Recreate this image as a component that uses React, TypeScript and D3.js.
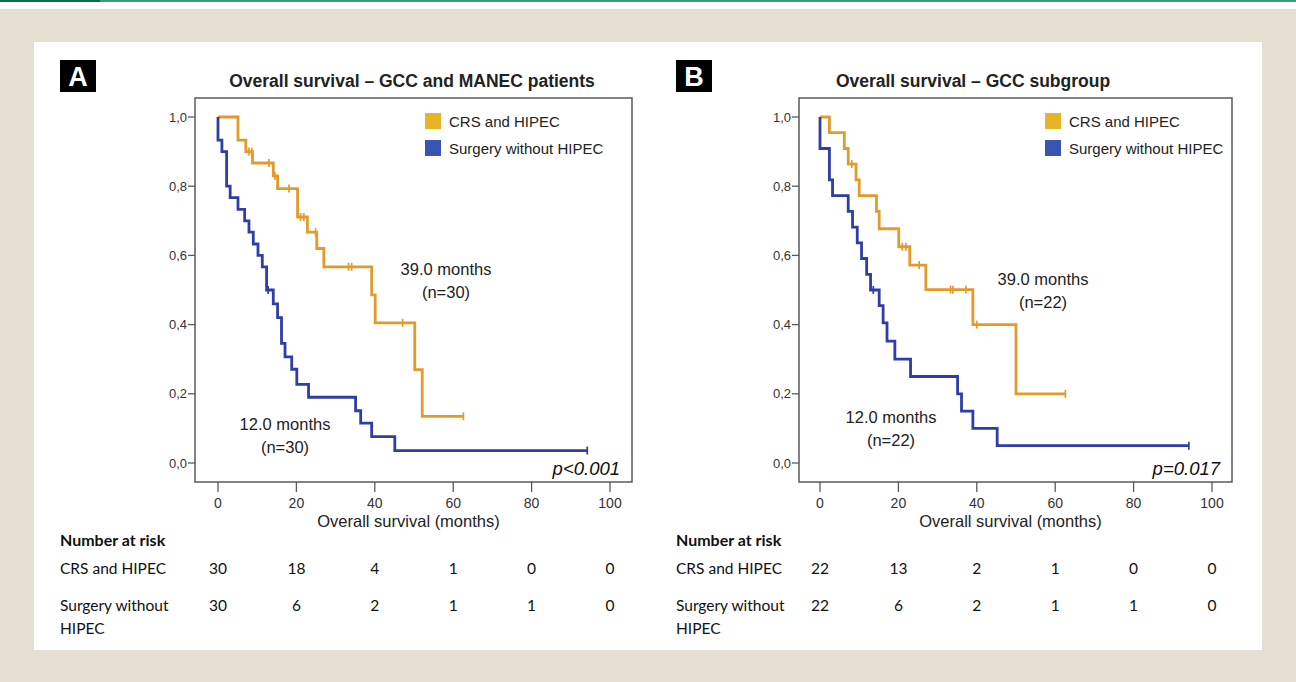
import React from 'react';
import * as d3 from 'd3';

// Panel A — GCC and MANEC patients
const aCrsTime = [0, 5.1, 7.1, 8.8, 14.1, 15.2, 20.3, 22.8, 25.2, 27.0, 39.2, 40.1, 50.2, 52.1, 62.6];
const aCrsSurv = [1, 0.933, 0.9, 0.867, 0.83, 0.793, 0.711, 0.667, 0.62, 0.567, 0.486, 0.405, 0.27, 0.135, 0.135];
const aCrsCens = [7.9, 8.6, 13.0, 14.5, 18.1, 21.1, 21.9, 24.9, 33.3, 34.1, 47.1, 62.6];
const aSurgTime = [0, 0, 1.0, 2.2, 3.1, 5.1, 6.8, 7.9, 9.0, 10.2, 11.3, 12.4, 14.1, 15.2, 16.2, 17.1, 18.8, 20.1, 23.1, 35.1, 36.4, 39.2, 45.1, 94.2];
const aSurgSurv = [1, 0.933, 0.9, 0.8, 0.767, 0.733, 0.7, 0.667, 0.633, 0.6, 0.567, 0.5, 0.46, 0.42, 0.346, 0.307, 0.271, 0.227, 0.19, 0.151, 0.115, 0.076, 0.036, 0.036];
const aSurgCens = [12.8, 94.2];
const aRiskCrs = ['30', '18', '4', '1', '0', '0'];
const aRiskSurg = ['30', '6', '2', '1', '1', '0'];

// Panel B — GCC subgroup
const bCrsTime = [0, 2.4, 6.2, 7.2, 9.2, 10.0, 14.4, 15.1, 20.1, 22.9, 27.0, 39.0, 50.0, 62.6];
const bCrsSurv = [1, 0.955, 0.909, 0.864, 0.818, 0.773, 0.727, 0.677, 0.625, 0.572, 0.501, 0.4, 0.2, 0.2];
const bCrsCens = [8.1, 21.0, 21.9, 25.3, 33.3, 33.9, 37.2, 40.0, 62.6];
const bSurgTime = [0, 0, 2.4, 3.2, 7.2, 8.3, 9.5, 10.6, 11.9, 12.9, 15.1, 16.1, 17.1, 19.1, 23.1, 35.1, 36.1, 39.0, 45.2, 94.1];
const bSurgSurv = [1, 0.909, 0.818, 0.773, 0.727, 0.682, 0.636, 0.591, 0.545, 0.5, 0.455, 0.405, 0.352, 0.3, 0.25, 0.2, 0.15, 0.1, 0.05, 0.05];
const bSurgCens = [13.6, 94.1];
const bRiskCrs = ['22', '13', '2', '1', '0', '0'];
const bRiskSurg = ['22', '6', '2', '1', '1', '0'];

const xTicks = [0, 20, 40, 60, 80, 100];
const yTicks = [0, 0.2, 0.4, 0.6, 0.8, 1.0];
const legendLabels = ['CRS and HIPEC', 'Surgery without HIPEC'];

const LINE_ORANGE = '#e29a2b';
const LINE_BLUE = '#2f3da6';
const KEY_ORANGE = '#e8b325';
const KEY_BLUE = '#3a54b4';
const CHART_FONT = '"Liberation Sans", Arial, sans-serif';
const TABLE_FONT = 'Lato, "Open Sans", sans-serif';

const stepLine = d3.line<[number, number]>().curve(d3.curveStepAfter);

function Curve({ times, surv, cens, color, x, y }) {
  const pts: [number, number][] = times.map((t, i) => [x(t), y(surv[i])]);
  const at = (t) => {
    let s = surv[0];
    times.forEach((tt, i) => { if (tt <= t) s = surv[i]; });
    return s;
  };
  return (
    <g>
      <path d={stepLine(pts)} fill="none" stroke={color} strokeWidth={2.8} />
      {cens.map((t, i) => (
        <line key={i} x1={x(t)} x2={x(t)} y1={y(at(t)) - 4} y2={y(at(t)) + 4} stroke={color} strokeWidth={1.7} />
      ))}
    </g>
  );
}

function Panel({ p }) {
  const x = d3.scaleLinear().domain([0, 100]).range([p.x0, p.x0 + 392]);
  const y = d3.scaleLinear().domain([0, 1]).range([463, 117]);
  const fl = p.frameL, fr = p.frameR, ft = 98, fb = 482;
  const fmt = (v) => d3.format('.1f')(v).replace('.', ',');
  const midX = (fl + fr) / 2 - 5;
  return (
    <g>
      <rect x={p.boxX} y={60} width={36} height={32} fill="#000" />
      <text x={p.boxX + 18} y={86} textAnchor="middle" fill="#fff" fontFamily={CHART_FONT} fontWeight="bold" fontSize={27}>{p.letter}</text>
      <text x={p.titleX} y={87} textAnchor="middle" fontFamily={CHART_FONT} fontWeight="bold" fontSize={17.5} fill="#222">{p.title}</text>

      <rect x={fl} y={ft} width={fr - fl} height={fb - ft} fill="#fff" stroke="#5a5a5a" strokeWidth={1.5} />
      {yTicks.map((v) => (
        <g key={v}>
          <line x1={fl - 7} x2={fl} y1={y(v)} y2={y(v)} stroke="#5a5a5a" strokeWidth={1.3} />
          <text x={fl - 8} y={y(v) + 4.5} textAnchor="end" fontFamily={CHART_FONT} fontSize={13} fill="#333">{fmt(v)}</text>
        </g>
      ))}
      {xTicks.map((v) => (
        <g key={v}>
          <line x1={x(v)} x2={x(v)} y1={fb} y2={fb + 10} stroke="#5a5a5a" strokeWidth={1.3} />
          <text x={x(v)} y={fb + 26} textAnchor="middle" fontFamily={CHART_FONT} fontSize={14} fill="#333">{v}</text>
        </g>
      ))}
      <text x={midX} y={527} textAnchor="middle" fontFamily={CHART_FONT} fontSize={16.5} fill="#222">Overall survival (months)</text>

      <Curve times={p.crsTime} surv={p.crsSurv} cens={p.crsCens} color={LINE_ORANGE} x={x} y={y} />
      <Curve times={p.surgTime} surv={p.surgSurv} cens={p.surgCens} color={LINE_BLUE} x={x} y={y} />

      {legendLabels.map((l, i) => (
        <g key={l}>
          <rect x={p.legX} y={113 + i * 27} width={16} height={16} fill={i === 0 ? KEY_ORANGE : KEY_BLUE} />
          <text x={p.legX + 24} y={127 + i * 27} fontFamily={CHART_FONT} fontSize={15} fill="#222">{l}</text>
        </g>
      ))}

      <text x={p.hiX} y={p.hiY} textAnchor="middle" fontFamily={CHART_FONT} fontSize={16.5} fill="#222">39.0 months</text>
      <text x={p.hiX} y={p.hiY + 23} textAnchor="middle" fontFamily={CHART_FONT} fontSize={16.5} fill="#222">{p.nLabel}</text>
      <text x={p.loX} y={p.loY} textAnchor="middle" fontFamily={CHART_FONT} fontSize={16.5} fill="#222">12.0 months</text>
      <text x={p.loX} y={p.loY + 23} textAnchor="middle" fontFamily={CHART_FONT} fontSize={16.5} fill="#222">{p.nLabel}</text>
      <text x={fr - 12} y={475} textAnchor="end" fontFamily={CHART_FONT} fontStyle="italic" fontSize={18.5} fill="#111">{p.pval}</text>

      <text x={p.boxX} y={546} fontFamily={TABLE_FONT} fontWeight="bold" fontSize={16} fill="#111">Number at risk</text>
      <text x={p.boxX} y={574} fontFamily={TABLE_FONT} fontSize={15.5} fill="#111">CRS and HIPEC</text>
      <text x={p.boxX} y={611} fontFamily={TABLE_FONT} fontSize={15.5} fill="#111">Surgery without</text>
      <text x={p.boxX} y={634} fontFamily={TABLE_FONT} fontSize={15.5} fill="#111">HIPEC</text>
      {xTicks.map((v, i) => (
        <g key={v}>
          <text x={x(v)} y={574} textAnchor="middle" fontFamily={TABLE_FONT} fontSize={15.5} fill="#111">{p.riskCrs[i]}</text>
          <text x={x(v)} y={611} textAnchor="middle" fontFamily={TABLE_FONT} fontSize={15.5} fill="#111">{p.riskSurg[i]}</text>
        </g>
      ))}
    </g>
  );
}

const panels = [
  {
    letter: 'A', title: 'Overall survival \u2013 GCC and MANEC patients', boxX: 60, titleX: 412,
    x0: 218, frameL: 195, frameR: 632, legX: 425,
    crsTime: aCrsTime, crsSurv: aCrsSurv, crsCens: aCrsCens,
    surgTime: aSurgTime, surgSurv: aSurgSurv, surgCens: aSurgCens,
    riskCrs: aRiskCrs, riskSurg: aRiskSurg,
    nLabel: '(n=30)', hiX: 446, hiY: 275, loX: 285, loY: 430, pval: 'p<0.001',
  },
  {
    letter: 'B', title: 'Overall survival \u2013 GCC subgroup', boxX: 676, titleX: 973,
    x0: 820, frameL: 799, frameR: 1232, legX: 1045,
    crsTime: bCrsTime, crsSurv: bCrsSurv, crsCens: bCrsCens,
    surgTime: bSurgTime, surgSurv: bSurgSurv, surgCens: bSurgCens,
    riskCrs: bRiskCrs, riskSurg: bRiskSurg,
    nLabel: '(n=22)', hiX: 1043, hiY: 285, loX: 891, loY: 423, pval: 'p=0.017',
  },
];

export default function App() {
  return (
    <svg width={1296} height={682} style={{ position: 'absolute', left: 0, top: 0, background: '#fff' }}>
      <rect x={0} y={9} width={1296} height={673} fill="#e6dfd3" />
      <rect x={0} y={0} width={1296} height={2} fill="#3f9a7b" />
      <rect x={0} y={0} width={100} height={2} fill="#0b6a47" />
      <rect x={34} y={42} width={1228} height={608} fill="#fff" />
      {panels.map((p) => <Panel key={p.letter} p={p} />)}
    </svg>
  );
}
